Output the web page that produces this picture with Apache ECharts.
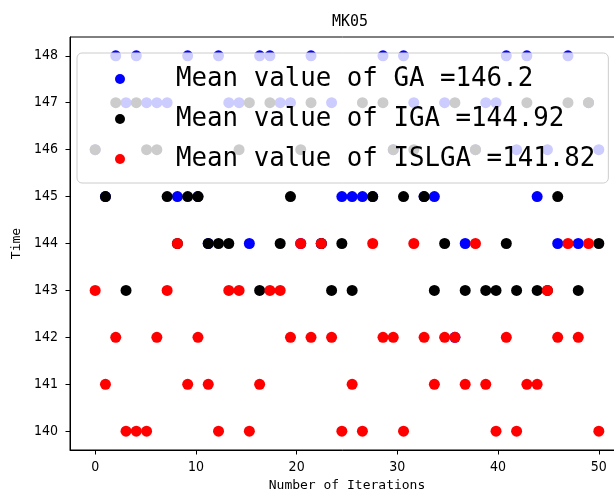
<!DOCTYPE html>
<html>
<head>
<meta charset="utf-8">
<script src="https://cdn.jsdelivr.net/npm/echarts@6/dist/echarts.min.js"></script>
<style>
html, body { margin: 0; padding: 0; background: #fff; }
#main { width: 614px; height: 492px; }
</style>
</head>
<body>
<div id="main"></div>
<script>
// 每次迭代的时间值
var gaTime = [146, 145, 148, 147, 148, 147, 147, 147, 145, 148,
    145, 144, 148, 147, 147, 144, 148, 148, 147, 147,
    144, 148, 144, 147, 145, 145, 145, 145, 148, 146,
    148, 147, 145, 145, 147, 142, 144, 146, 147, 147,
    148, 146, 148, 145, 146, 144, 148, 144, 147, 146];
var igaTime = [146, 145, 147, 143, 147, 146, 146, 145, 144, 145,
    145, 144, 144, 144, 146, 147, 143, 147, 144, 145,
    146, 147, 144, 143, 144, 143, 147, 145, 147, 146,
    145, 146, 145, 143, 144, 147, 143, 146, 143, 143,
    144, 143, 147, 143, 143, 145, 147, 143, 147, 144];
var islgaTime = [143, 141, 142, 140, 140, 140, 142, 143, 144, 141,
    142, 141, 140, 143, 143, 140, 141, 143, 143, 142,
    144, 142, 144, 142, 140, 141, 140, 144, 142, 142,
    140, 144, 142, 141, 142, 142, 141, 144, 141, 140,
    142, 140, 141, 141, 143, 142, 144, 142, 144, 140];
var xTicks = [0, 10, 20, 30, 40, 50];
var yTicks = [140, 141, 142, 143, 144, 145, 146, 147, 148];

// x = linspace(0, 50, 50)
var iterations = gaTime.map(function (v, i) { return i * 50 / 49; });

function mean(arr) {
    var s = 0;
    arr.forEach(function (v) { s += v; });
    return Math.round(s / arr.length * 100) / 100;
}
function pairs(arr) {
    return arr.map(function (v, i) { return [iterations[i], v]; });
}

var names = ['Mean value of GA =' + mean(gaTime),
    'Mean value of IGA =' + mean(igaTime),
    'Mean value of ISLGA =' + mean(islgaTime)];

var tickFont = 'Liberation Sans Narrow, DejaVu Sans Condensed, sans-serif';
var monoFont = 'DejaVu Sans Mono, monospace';

var myChart = echarts.init(document.getElementById('main'));
var option = {
    animation: false,
    title: {
        text: 'MK05',
        left: 345,
        top: 10,
        textAlign: 'center',
        textStyle: { fontFamily: monoFont, fontSize: 15, fontWeight: 'normal', color: '#000' }
    },
    legend: {
        left: 77,
        top: 53,
        orient: 'vertical',
        icon: 'circle',
        itemWidth: 10,
        itemHeight: 10,
        itemGap: 0,
        padding: [6, 13, 4, 38],
        backgroundColor: 'rgba(255,255,255,0.8)',
        borderColor: '#cccccc',
        borderWidth: 1,
        borderRadius: 5,
        data: names,
        textStyle: {
            fontFamily: monoFont,
            fontSize: 25.8,
            color: '#000',
            lineHeight: 40,
            padding: [0, 0, 0, 46]
        }
    },
    grid: {
        left: 70,
        right: -10,
        top: 37,
        bottom: 42,
        outerBoundsMode: 'none',
        containLabel: false,
        show: true,
        borderColor: '#000',
        borderWidth: 1
    },
    xAxis: {
        type: 'value',
        min: -2.5,
        max: 52.5,
        name: 'Number of Iterations',
        nameLocation: 'middle',
        nameGap: 27,
        nameTextStyle: { fontFamily: monoFont, fontSize: 13, color: '#000' },
        axisLine: { show: true, onZero: false, lineStyle: { color: '#000' } },
        axisTick: { show: true, length: 4.5, customValues: xTicks, lineStyle: { color: '#000' } },
        axisLabel: { customValues: xTicks, margin: 10, fontFamily: tickFont, fontSize: 14, color: '#000' },
        splitLine: { show: false }
    },
    yAxis: {
        type: 'value',
        min: 139.6,
        max: 148.4,
        name: 'Time',
        nameLocation: 'middle',
        nameRotate: 90,
        nameGap: 33,
        nameTextStyle: { fontFamily: monoFont, fontSize: 13, color: '#000' },
        axisLine: { show: true, onZero: false, lineStyle: { color: '#000' } },
        axisTick: { show: true, length: 4.5, customValues: yTicks, lineStyle: { color: '#000' } },
        axisLabel: { customValues: yTicks, margin: 12, fontFamily: tickFont, fontSize: 14, color: '#000' },
        splitLine: { show: false }
    },
    series: [{
        name: names[0],
        type: 'scatter',
        symbolSize: 11,
        itemStyle: { color: '#0000ff', opacity: 1 },
        data: pairs(gaTime)
    }, {
        name: names[1],
        type: 'scatter',
        symbolSize: 11,
        itemStyle: { color: '#000000', opacity: 1 },
        data: pairs(igaTime)
    }, {
        name: names[2],
        type: 'scatter',
        symbolSize: 11,
        itemStyle: { color: '#ff0000', opacity: 1 },
        data: pairs(islgaTime)
    }]
};
myChart.setOption(option);
</script>
</body>
</html>
